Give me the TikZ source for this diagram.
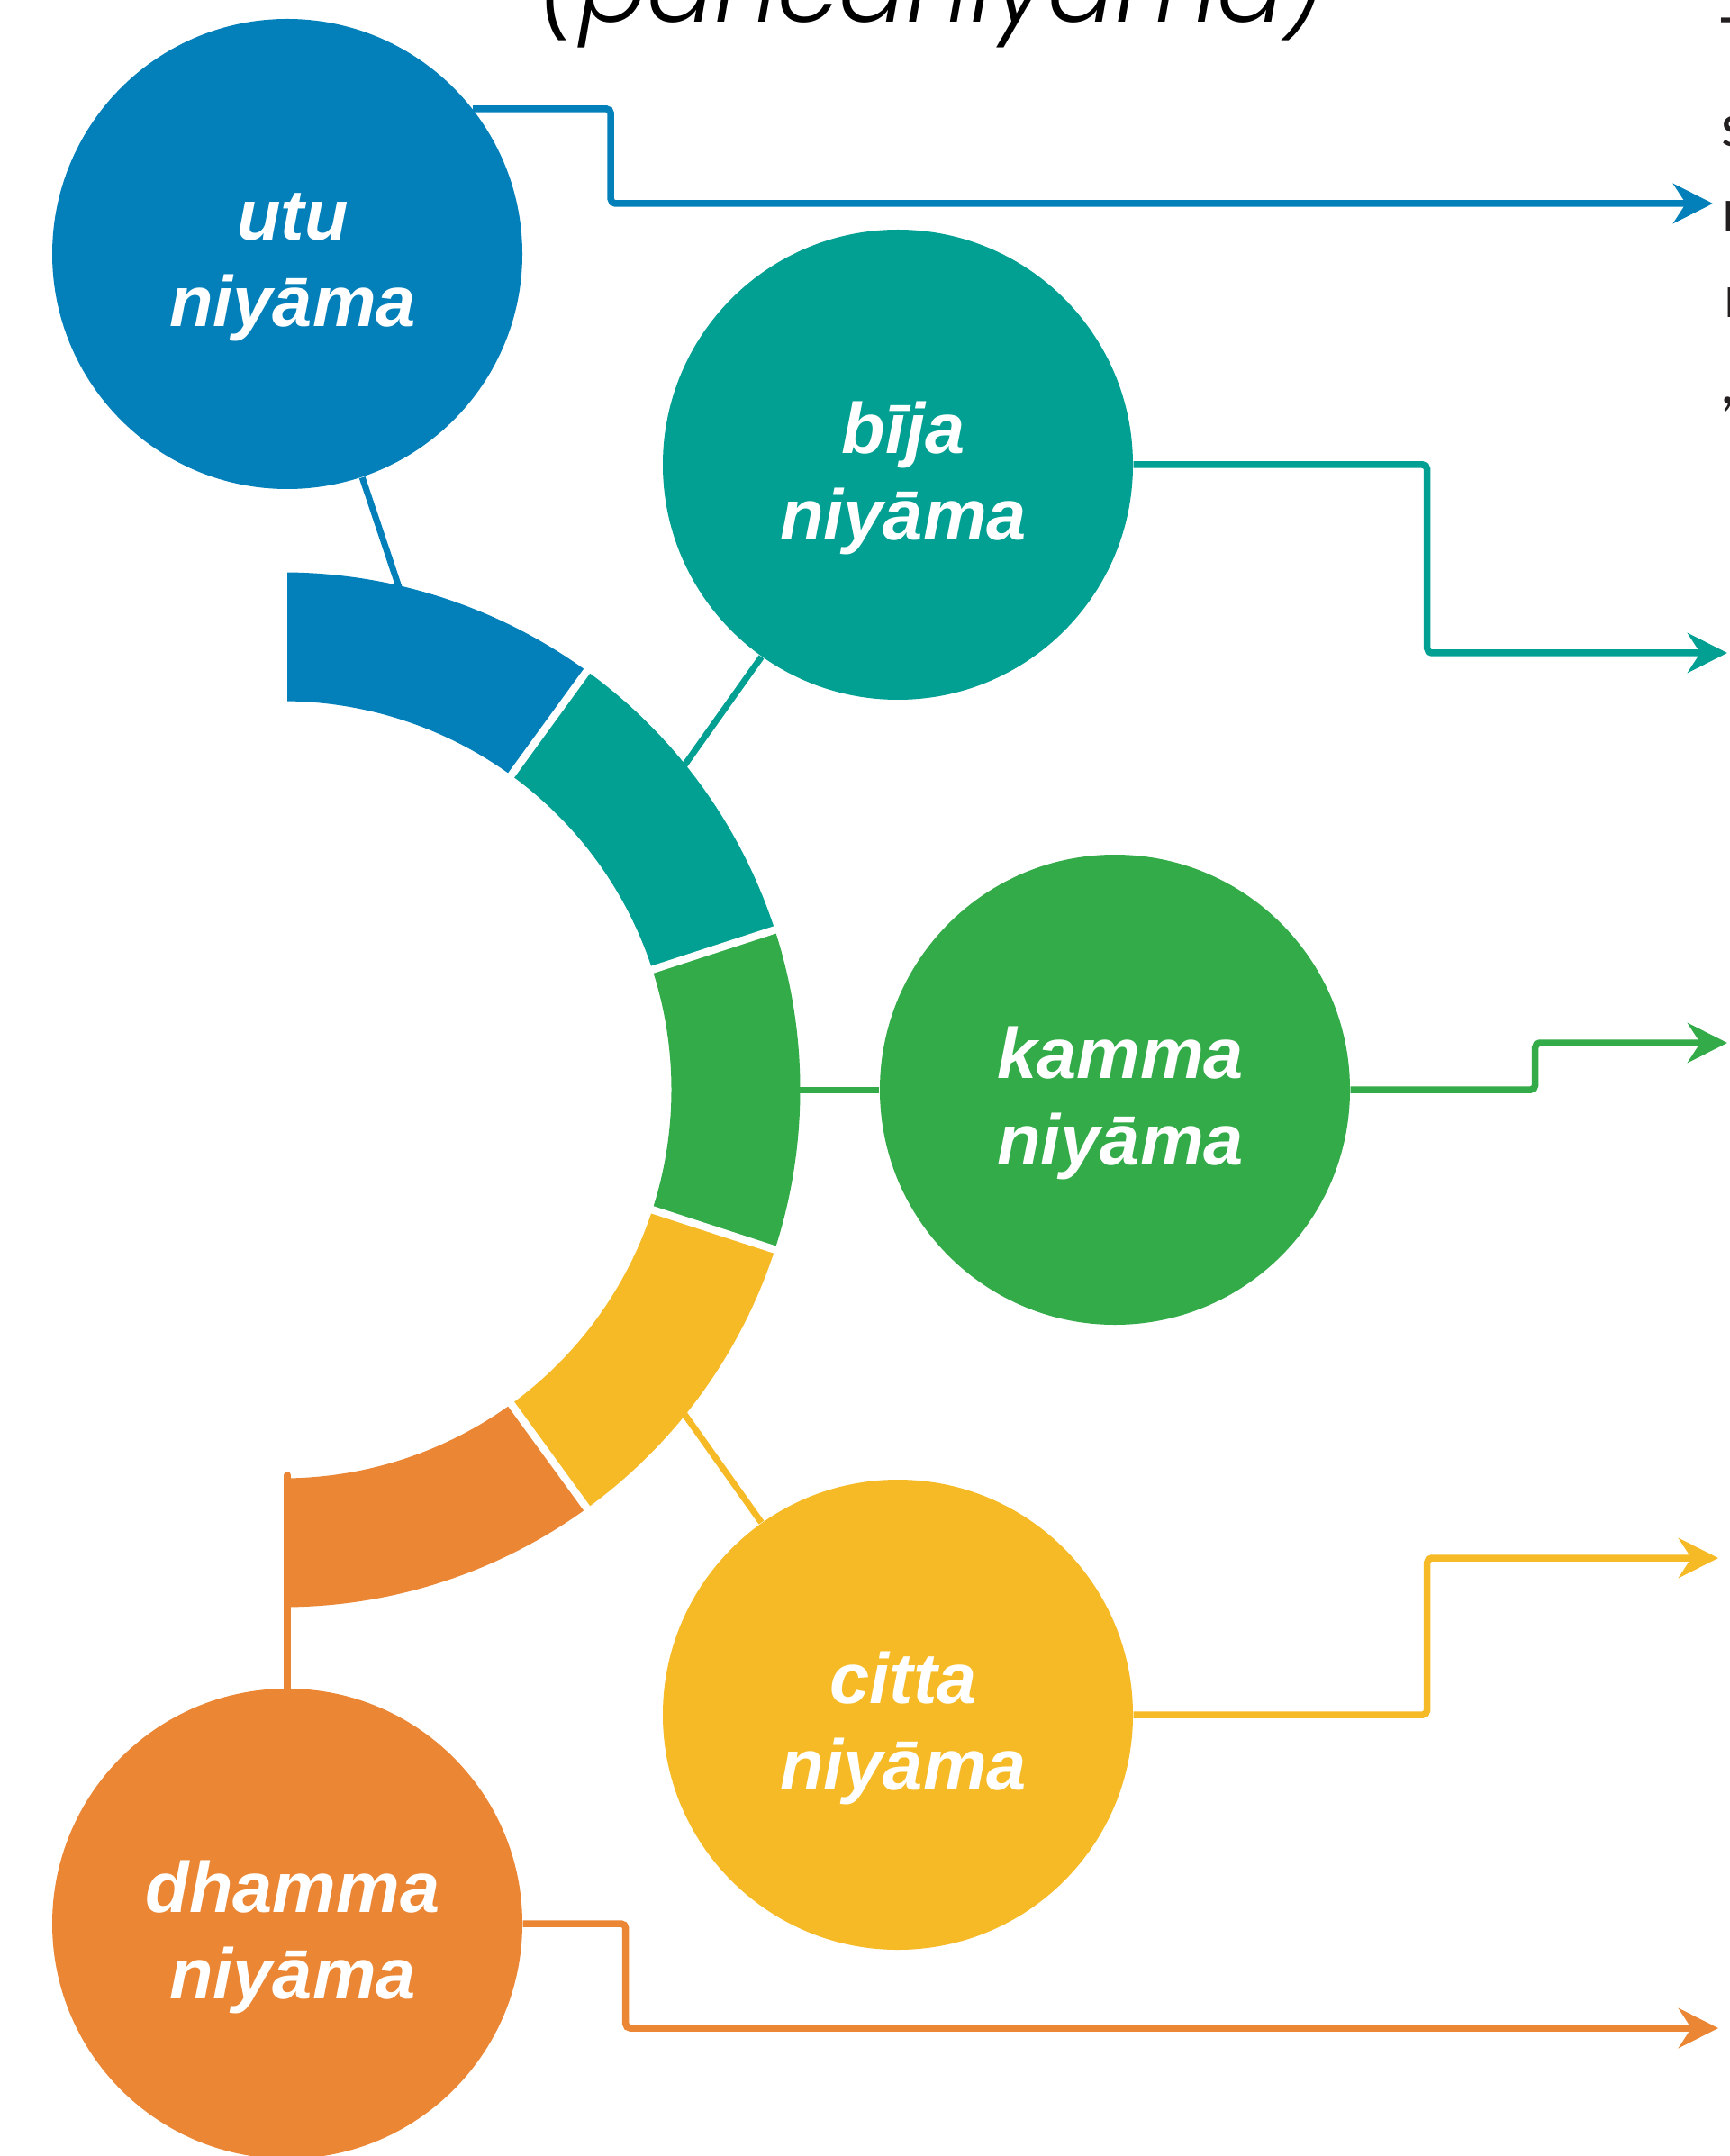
\documentclass[tikz,border=0pt]{standalone}
\usepackage{fontspec}
\usetikzlibrary{arrows.meta,calc}
\setmainfont{Liberation Sans}
\newfontfamily\circfont{Liberation Sans}
\newfontfamily\titlefont{Poppins Light Italic}
\newfontfamily\sidefont{Lato}
\definecolor{cblue}{RGB}{3,128,186}
\definecolor{cteal}{RGB}{1,160,146}
\definecolor{cgreen}{RGB}{50,171,72}
\definecolor{cyellow}{RGB}{245,186,38}
\definecolor{corange}{RGB}{234,134,52}
\definecolor{sidegray}{RGB}{35,31,32}
\begin{document}
\begin{tikzpicture}[
  bub/.style={circle, minimum size=5.22cm, inner sep=0pt},
  lab/.style={text=white, align=center, inner sep=0pt, yshift=-0.15cm, xshift=0.06cm,
    font=\circfont\bfseries\itshape\fontsize{22.6}{27.5}\selectfont},
  conn/.style={line width=0.075cm, rounded corners=0.05cm,
    -{Stealth[length=0.44cm,width=0.44cm,inset=0.14cm]}},
  link/.style={line width=0.07cm},
  side/.style={anchor=base west, inner sep=0pt, text=sidegray,
    font=\sidefont\fontsize{18.5}{22}\selectfont}
]
\useasboundingbox (0,0) rectangle (19.2,-23.94);
\clip (0,0) rectangle (19.2,-23.94);
\coordinate (C) at (3.14,-12.10);

% title (cut at top)
\node[anchor=base, inner sep=0pt, font=\titlefont\fontsize{31.6}{35}\selectfont] (title) at (10.35,-0.25) {(pañcaniyāma)};

% side text fragments
\node[side] (s1) at (19.10,-0.67) {T};
\node[side] (s2) at (19.11,-1.63) {s};
\node[side] (s3) at (19.12,-2.57) {n};
\node[side] (s4) at (19.14,-3.53) {n};
\node[side] (s5) at (19.11,-4.49) {,};

% circles
\node[bub, fill=cblue,   label={[lab]center:utu\\niyāma}]    (utu)    at (3.19,-2.82)  {};
\node[bub, fill=cteal,   label={[lab]center:bīja\\niyāma}]   (bija)   at (9.97,-5.16)  {};
\node[bub, fill=cgreen,  label={[lab]center:kamma\\niyāma}]  (kamma)  at (12.38,-12.10) {};
\node[bub, fill=cyellow, label={[lab]center:citta\\niyāma}]  (citta)  at (9.97,-19.04) {};
\node[bub, fill=corange, label={[lab]center:dhamma\\niyāma}] (dhamma) at (3.19,-21.36) {};

% ring
\begin{scope}
  \clip (3.19,-5) rectangle (10,-19);
  \begin{scope}[shift={(C)}]
    \fill[cblue]   (92:5.745) arc[start angle=92,end angle=54,radius=5.745] -- (54:4.315) arc[start angle=54,end angle=92,radius=4.315] -- cycle;
    \fill[cteal]   (54:5.745) arc[start angle=54,end angle=18,radius=5.745] -- (18:4.315) arc[start angle=18,end angle=54,radius=4.315] -- cycle;
    \fill[cgreen]  (18:5.745) arc[start angle=18,end angle=-18,radius=5.745] -- (-18:4.315) arc[start angle=-18,end angle=18,radius=4.315] -- cycle;
    \fill[cyellow] (-18:5.745) arc[start angle=-18,end angle=-54,radius=5.745] -- (-54:4.315) arc[start angle=-54,end angle=-18,radius=4.315] -- cycle;
    \fill[corange] (-54:5.745) arc[start angle=-54,end angle=-92,radius=5.745] -- (-92:4.315) arc[start angle=-92,end angle=-54,radius=4.315] -- cycle;
    \foreach \a in {54,18,-18,-54} \draw[white, line width=0.085cm] (\a:4.25) -- (\a:5.8);
  \end{scope}
\end{scope}

% ring connectors
\coordinate (ru) at ($(C)+(76.3:5.62)$);
\coordinate (rb) at ($(C)+(38.6:5.62)$);
\coordinate (rk) at ($(C)+(0:5.62)$);
\coordinate (rc) at ($(C)+(-38.6:5.62)$);
\coordinate (rd) at (3.19,-16.38);
\draw[link, cblue] (utu) -- (ru);
\draw[link, cteal] (bija) -- (rb);
\draw[link, cgreen] (rk) -- (kamma);
\draw[link, cyellow] (citta) -- (rc);
\draw[link, corange, line width=0.08cm, line cap=round] (rd) -- (dhamma);

% arrow tips
\coordinate (tu) at (19.02,-2.26);
\coordinate (tb) at (19.18,-7.25);
\coordinate (tk) at (19.18,-11.58);
\coordinate (tc) at (19.08,-17.30);
\coordinate (td) at (19.08,-22.52);

% outgoing arrows
\draw[conn, cblue]   (utu.38)      -- ++(1.53,0) |- (tu);
\draw[conn, cteal]   (bija.east)   -- ++(3.26,0) |- (tb);
\draw[conn, cgreen]  (kamma.east)  -- ++(2.05,0) |- (tk);
\draw[conn, cyellow] (citta.east)  -- ++(3.26,0) |- (tc);
\draw[conn, corange] (dhamma.east) -- ++(1.14,0) |- (td);
\end{tikzpicture}
\end{document}
